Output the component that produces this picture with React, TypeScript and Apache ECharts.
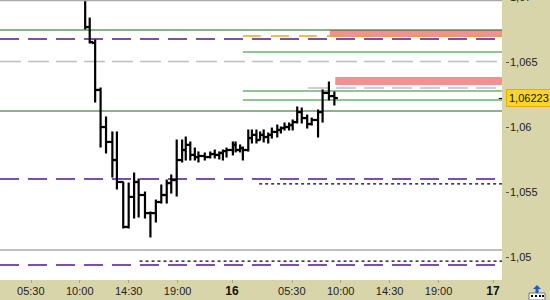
import React, { useEffect, useRef } from "react";
import * as echarts from "echarts";

// OHLC bars (day hh:mm)
const barTimes = ["15 10:30","15 10:55","15 11:25","15 11:55","15 12:25","15 13:00","15 13:25","15 14:00","15 14:30","15 15:00","15 15:25","15 16:00","15 16:30","15 17:00","15 17:30","15 18:00","15 18:25","15 18:55","15 19:25","15 19:45","15 20:10","15 20:35","15 20:55","15 21:30","15 22:00","15 22:25","15 22:50","15 23:10","15 23:30","16 00:05","16 00:20","16 00:45","16 01:00","16 01:30","16 01:50","16 02:15","16 02:35","16 02:55","16 03:20","16 03:40","16 04:10","16 04:30","16 04:50","16 05:15","16 05:35","16 06:00","16 06:25","16 06:55","16 07:20","16 07:55","16 08:20","16 08:55","16 09:25"];
const barOpen = [1.07054,1.06769,1.06646,1.06285,1.06000,1.05885,1.05746,1.05577,1.05231,1.05462,1.05577,1.05477,1.05338,1.05338,1.05423,1.05477,1.05569,1.05592,1.05746,1.05823,1.05862,1.05785,1.05769,1.05777,1.05769,1.05792,1.05785,1.05800,1.05815,1.05823,1.05862,1.05823,1.05838,1.05823,1.05915,1.05939,1.05900,1.05939,1.05923,1.05939,1.05962,1.05977,1.05992,1.06000,1.06015,1.06038,1.06115,1.06069,1.06023,1.06054,1.06115,1.06262,1.06238];
const barHigh = [1.07092,1.06838,1.06669,1.06300,1.06077,1.05962,1.05962,1.05577,1.05569,1.05646,1.05600,1.05500,1.05346,1.05438,1.05554,1.05592,1.05631,1.05900,1.05900,1.05923,1.05885,1.05838,1.05808,1.05800,1.05808,1.05823,1.05808,1.05823,1.05838,1.05885,1.05885,1.05862,1.05846,1.05977,1.05977,1.05977,1.05962,1.05977,1.05954,1.05992,1.06015,1.06000,1.06031,1.06031,1.06054,1.06154,1.06146,1.06092,1.06069,1.06131,1.06285,1.06346,1.06269];
const barLow = [1.06754,1.06646,1.06192,1.05846,1.05800,1.05615,1.05523,1.05223,1.05223,1.05300,1.05308,1.05300,1.05154,1.05269,1.05415,1.05415,1.05492,1.05469,1.05731,1.05746,1.05746,1.05746,1.05731,1.05746,1.05762,1.05762,1.05754,1.05746,1.05769,1.05785,1.05808,1.05808,1.05746,1.05815,1.05877,1.05877,1.05900,1.05885,1.05877,1.05915,1.05923,1.05954,1.05977,1.05977,1.05977,1.06031,1.06031,1.05992,1.06015,1.05923,1.06038,1.06208,1.06169];
const barClose = [1.06769,1.06654,1.06285,1.06000,1.05885,1.05746,1.05577,1.05231,1.05462,1.05577,1.05477,1.05338,1.05338,1.05423,1.05477,1.05569,1.05592,1.05746,1.05823,1.05862,1.05785,1.05769,1.05777,1.05769,1.05792,1.05785,1.05800,1.05815,1.05823,1.05862,1.05823,1.05838,1.05823,1.05915,1.05939,1.05900,1.05939,1.05923,1.05939,1.05962,1.05977,1.05992,1.06000,1.06015,1.06038,1.06115,1.06069,1.06023,1.06054,1.06115,1.06262,1.06238,1.06223];

const lastPrice = 1.06223;

// x axis ticks (hours since 15th 00:00)
const xTickTimes = ["15 05:30","15 10:00","15 14:30","15 19:00","16 00:00","16 05:30","16 10:00","16 14:30","16 19:00","17 00:00"];
const xTickLabels = ["05:30","10:00","14:30","19:00","16","05:30","10:00","14:30","19:00","17"];
const xRange = ["15 02:40", "17 00:50"];

// horizontal levels: value, start time, style kind
const levelValues = [1.06746, 1.06677, 1.06504, 1.06123, 1.05600, 1.05054, 1.04938, 1.06700, 1.06577, 1.06300, 1.06277, 1.06208, 1.05562, 1.04969];
const levelStart = ["15 02:40","15 02:40","15 02:40","15 02:40","15 02:40","15 02:40","15 02:40","16 01:00","16 01:00","16 07:00","16 01:00","16 01:00","16 02:30","15 15:30"];
const levelKinds = ["green","purple","grayDash","green","purple","graySolid","purple","orange","green2","pinkDash","green2","green2","black","black"];
// zones
const zoneTop = [1.06746, 1.06385];
const zoneBottom = [1.06692, 1.06323];
const zoneStart = ["16 09:00", "16 09:30"];

const toHours = (s: string) => {
  const [d, t] = s.split(" ");
  const [hh, mm] = t.split(":").map(Number);
  return (Number(d) - 15) * 24 + hh + mm / 60;
};

const styles: Record<string, any> = {
  green: { color: "#17661a", width: 1.2, type: "solid" },
  green2: { color: "#238a25", width: 1.1, type: "solid" },
  purple: { color: "#55168a", width: 1.4, type: [19, 9] },
  grayDash: { color: "#bdbdbd", width: 1.3, type: [21, 7] },
  pinkDash: { color: "#c9b6c9", width: 1.3, type: [20, 8] },
  orange: { color: "#eea21c", width: 1.5, type: [18, 10] },
  graySolid: { color: "#a8a8a8", width: 1.4, type: "solid" },
  black: { color: "#000000", width: 1.2, type: [3, 3] },
};

export default function App() {
  const ref = useRef<HTMLDivElement>(null);
  useEffect(() => {
    if (!ref.current) return;
    const chart = echarts.init(ref.current, null, { renderer: "svg" });
    const xMin = toHours(xRange[0]);
    const xMax = toHours(xRange[1]);
    const xTicks = xTickTimes.map(toHours);
    const bars = barTimes.map((t, i) => [toHours(t), barOpen[i], barHigh[i], barLow[i], barClose[i]]);

    const levelSeries = levelValues.map((v, i) => ({
      type: "line",
      data: [[toHours(levelStart[i]), v], [xMax, v]],
      symbol: "none",
      silent: true,
      z: 2,
      clip: false,
      lineStyle: { ...styles[levelKinds[i]] },
    }));

    const zones = zoneTop.map((t, i) => [
      { coord: [toHours(zoneStart[i]), t] },
      { coord: [xMax, zoneBottom[i]] },
    ]);

    const fmtY = (v: number) => String(Math.round(v * 100000) / 100000).replace(".", ",");

    chart.setOption({
      animation: false,
      backgroundColor: "#d9d5aa",
      textStyle: { fontFamily: "Liberation Sans, Arial, sans-serif" },
      grid: { left: 0, right: 48, top: -3, bottom: 20, show: true, backgroundColor: "#ffffff", borderWidth: 0, outerBoundsMode: "none", containLabel: false },
      xAxis: {
        type: "value",
        min: xMin,
        max: xMax,
        axisLine: { show: false },
        splitLine: { show: false },
        axisTick: { show: true, customValues: xTicks, length: 3, lineStyle: { color: "#a8a48a" } },
        axisLabel: {
          customValues: xTicks,
          margin: 5,
          fontSize: 11,
          color: "#222",
          formatter: (v: number) => {
            const i = xTicks.findIndex((t) => Math.abs(t - v) < 1e-6);
            if (i < 0) return "";
            const s = xTickLabels[i];
            return s.indexOf(":") < 0 ? `{b|${s}}` : s;
          },
          rich: { b: { fontWeight: "bold", fontSize: 12, color: "#111" } },
        },
      },
      yAxis: {
        type: "value",
        position: "right",
        min: 1.048231,
        max: 1.07,
        splitNumber: 5,
        offset: 4,
        axisLine: { show: false },
        splitLine: { show: false },
        axisTick: { show: true, length: 3, lineStyle: { color: "#555" } },
        axisLabel: {
          margin: 4,
          fontSize: 11,
          color: "#222",
          showMinLabel: false,
          showMaxLabel: true,
          formatter: fmtY,
        },
      },
      graphic: [
        { type: "line", shape: { x1: 0, y1: 0.5, x2: 502, y2: 0.5 }, style: { stroke: "#a8a8a8", lineWidth: 1.4 }, z: 10 },
        { type: "rect", shape: { x: 529, y: 293, width: 16, height: 7 }, style: { fill: "#ffffff", stroke: "#777", lineWidth: 1 }, z: 10 },
        { type: "rect", shape: { x: 531, y: 295, width: 2, height: 2 }, style: { fill: "#000" }, z: 11 },
        { type: "rect", shape: { x: 535, y: 295, width: 2, height: 2 }, style: { fill: "#000" }, z: 11 },
        { type: "rect", shape: { x: 539, y: 295, width: 2, height: 2 }, style: { fill: "#000" }, z: 11 },
        { type: "rect", shape: { x: 542, y: 295, width: 2, height: 2 }, style: { fill: "#000" }, z: 11 },
        { type: "polygon", shape: { points: [[537, 285], [533, 289], [535.5, 289], [535.5, 293], [538.5, 293], [538.5, 289], [541, 289]] }, style: { fill: "#1f5ed0" }, z: 11 },
      ],
      series: [
        {
          type: "line",
          data: [],
          z: 1,
          silent: true,
          markArea: {
            silent: true,
            itemStyle: { color: "#f59090", opacity: 1 },
            data: zones,
          },
        },
        ...levelSeries,
        {
          type: "line",
          data: [],
          z: 5,
          silent: true,
          markLine: {
            silent: true,
            symbol: ["none", "none"],
            data: [
              [
                { coord: [xMax - 0.3, lastPrice], lineStyle: { color: "#111", width: 1.2, type: "solid" } },
                { coord: [xMax, lastPrice] },
              ],
            ],
            label: {
              show: true,
              position: "end",
              distance: 5,
              formatter: () => fmtY(lastPrice),
              backgroundColor: "#fcd42a",
              borderColor: "#e2b000",
              borderWidth: 1,
              padding: [3, 2, 2, 2],
              color: "#111",
              fontSize: 11,
            },
          },
        },
        {
          type: "custom",
          z: 4,
          silent: true,
          clip: true,
          encode: { x: 0, y: [1, 2, 3, 4] },
          data: bars,
          renderItem: (params: any, api: any) => {
            const x = api.value(0);
            const pO = api.coord([x, api.value(1)]);
            const pH = api.coord([x, api.value(2)]);
            const pL = api.coord([x, api.value(3)]);
            const pC = api.coord([x, api.value(4)]);
            const st = { stroke: "#000", lineWidth: 2.2 };
            const w = 3.5;
            return {
              type: "group",
              children: [
                { type: "line", shape: { x1: pH[0], y1: pH[1] - 0.5, x2: pL[0], y2: pL[1] + 0.5 }, style: st },
                { type: "line", shape: { x1: pO[0] - w, y1: pO[1], x2: pO[0], y2: pO[1] }, style: st },
                { type: "line", shape: { x1: pC[0], y1: pC[1], x2: pC[0] + w, y2: pC[1] }, style: st },
              ],
            };
          },
        },
      ],
    });
    return () => chart.dispose();
  }, []);
  return <div ref={ref} style={{ position: "fixed", left: 0, top: 0, width: 550, height: 300 }} />;
}
